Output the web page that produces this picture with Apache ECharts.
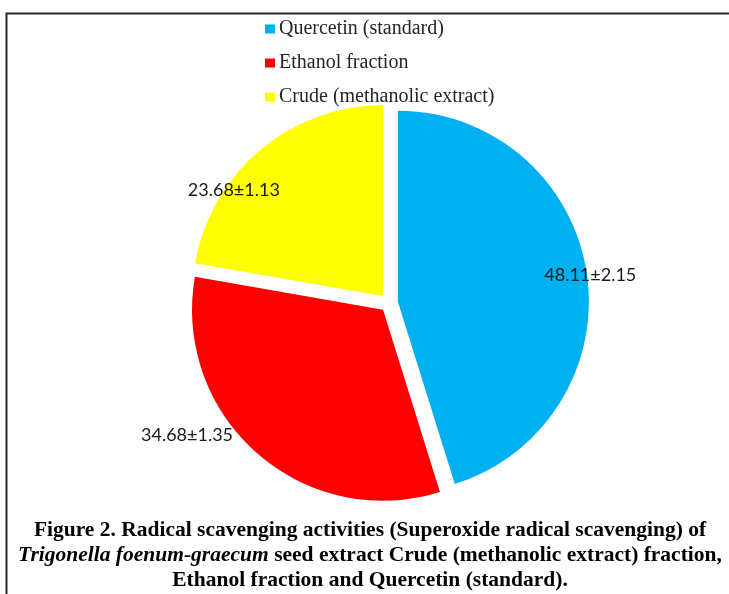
<!DOCTYPE html>
<html>
<head>
<meta charset="utf-8">
<title>Superoxide radical scavenging</title>
<script src="https://cdn.jsdelivr.net/npm/echarts@6/dist/echarts.min.js"></script>
<style>
  html, body { margin: 0; padding: 0; background: #ffffff; }
  #chart { width: 729px; height: 594px; }
</style>
</head>
<body>
<div id="chart"></div>
<script>
// Scavenging activity (%) with standard deviation for each sample
const categories = ['Quercetin (standard)', 'Ethanol fraction', 'Crude (methanolic extract)'];
const means = [48.11, 34.68, 23.68];
const errors = [2.15, 1.35, 1.13];
const colors = ['#00B0F0', '#FF0000', '#FFFF00'];

// Label nudges from the default inside position, per slice
const labelShift = [[95, -12], [-131, 51], [-86, -31]];

const chart = echarts.init(document.getElementById('chart'), null, { renderer: 'canvas' });

const pieData = categories.map((name, i) => ({
  name: name,
  value: means[i],
  selected: true,
  itemStyle: { color: colors[i] }
}));

chart.setOption({
  animation: false,
  backgroundColor: '#ffffff',
  graphic: [{
    type: 'polyline',
    shape: { points: [[6.5, 600], [6.5, 13.5], [740, 13.5]] },
    style: { stroke: '#262626', lineWidth: 2, fill: null },
    silent: true
  }],
  title: {
    left: 365,
    top: 513,
    textAlign: 'center',
    text: '{b|Figure 2. Radical scavenging activities (Superoxide radical scavenging) of}\n' +
          '{i|Trigonella foenum-graecum}{b| seed extract Crude (methanolic extract) fraction,}\n' +
          '{b|Ethanol fraction and Quercetin (standard).}',
    textStyle: {
      rich: {
        b: { fontFamily: 'Liberation Serif', fontWeight: 'bold', fontSize: 21.5, color: '#000', lineHeight: 25 },
        i: { fontFamily: 'Liberation Serif', fontWeight: 'bold', fontStyle: 'italic', fontSize: 21.5, color: '#000', lineHeight: 25 }
      }
    }
  },
  legend: {
    orient: 'vertical',
    left: 260,
    top: 14,
    itemWidth: 10,
    itemHeight: 9,
    itemGap: 14,
    icon: 'rect',
    selectedMode: false,
    data: categories,
    textStyle: {
      fontFamily: 'Liberation Serif',
      fontSize: 20,
      color: '#262626',
      lineHeight: 20,
      padding: [0, 0, 0, -1]
    }
  },
  series: [{
    type: 'pie',
    center: [389, 303],
    radius: [0, 191],
    startAngle: 90,
    clockwise: true,
    selectedMode: 'multiple',
    selectedOffset: 9,
    avoidLabelOverlap: false,
    emphasis: { disabled: true },
    itemStyle: { borderWidth: 0 },
    label: {
      show: true,
      position: 'inside',
      fontFamily: 'Lato',
      fontSize: 18,
      color: '#1a1a1a',
      formatter: p => means[p.dataIndex].toFixed(2) + '±' + errors[p.dataIndex].toFixed(2)
    },
    labelLine: { show: false },
    labelLayout: p => ({ dx: labelShift[p.dataIndex][0], dy: labelShift[p.dataIndex][1] }),
    data: pieData
  }]
});
</script>
</body>
</html>
